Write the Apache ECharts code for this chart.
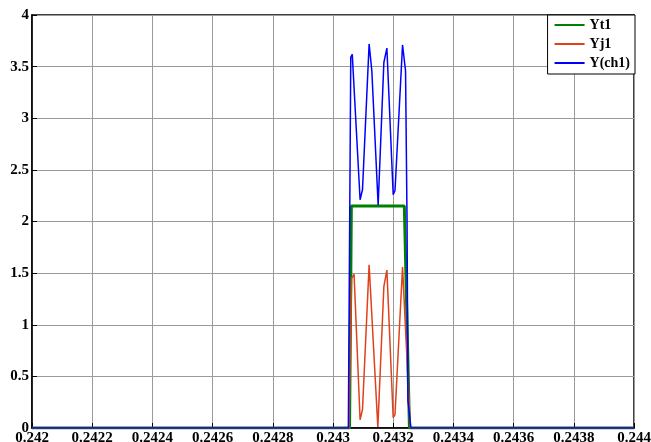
<!DOCTYPE html>
<html>
<head>
<meta charset="utf-8">
<script src="https://cdn.jsdelivr.net/npm/echarts@6/dist/echarts.min.js"></script>
<style>
  html, body { margin: 0; padding: 0; background: #fff; }
  #chart { width: 651px; height: 442px; }
</style>
</head>
<body>
<div id="chart"></div>
<script>
// Time axis ticks and value axis ticks
const xTickLabels = ['0.242', '0.2422', '0.2424', '0.2426', '0.2428', '0.243', '0.2432', '0.2434', '0.2436', '0.2438', '0.244'];
const yTickLabels = ['0', '0.5', '1', '1.5', '2', '2.5', '3', '3.5', '4'];

// Yt1: rectangular pulse
const yt1 = [
  [0.242, 0], [0.243055, 0], [0.243061, 2.15], [0.243237, 2.15], [0.243254, 0], [0.244, 0]
];

// Yj1: oscillating component
const yj1 = [
  [0.242, 0], [0.243053, 0], [0.243062, 1.45], [0.243070, 1.49],
  [0.243090, 0.08], [0.243098, 0.18], [0.243120, 1.58],
  [0.243149, 0.01], [0.243169, 1.37], [0.243179, 1.53],
  [0.243200, 0.10], [0.243206, 0.13], [0.243231, 1.56],
  [0.243237, 1.20], [0.243257, 0], [0.244, 0]
];

// Y(ch1): combined signal
const ych1 = [
  [0.242, 0], [0.243051, 0], [0.243059, 3.59], [0.243064, 3.62], [0.243070, 3.63],
  [0.243090, 2.21], [0.243098, 2.31], [0.243120, 3.72], [0.243129, 3.46],
  [0.243150, 2.16], [0.243169, 3.54], [0.243179, 3.68],
  [0.243200, 2.26], [0.243206, 2.30], [0.243231, 3.71], [0.243241, 3.46],
  [0.243246, 2.0], [0.243249, 0.27], [0.243259, 0], [0.244, 0]
];

const labelFont = { fontFamily: '"Liberation Serif", "Times New Roman", serif', fontWeight: 'bold', fontSize: 14, color: '#000' };

const chart = echarts.init(document.getElementById('chart'), null, { renderer: 'canvas' });
chart.setOption({
  animation: false,
  backgroundColor: '#fff',
  grid: {
    left: 32, right: 17, top: 15, bottom: 14,
    outerBoundsMode: 'none', containLabel: false,
    show: true, borderColor: '#000', borderWidth: 1.5, backgroundColor: 'transparent'
  },
  legend: {
    orient: 'vertical',
    right: 16, top: 15,
    backgroundColor: '#fff',
    borderColor: '#000', borderWidth: 1,
    padding: [3, 5, 4, 6],
    itemWidth: 30, itemHeight: 14, itemGap: 5,
    itemStyle: { opacity: 0 },
    textStyle: Object.assign({}, labelFont, { fontSize: 14 }),
    data: ['Yt1', 'Yj1', 'Y(ch1)']
  },
  xAxis: {
    type: 'value',
    min: 0.242, max: 0.244, interval: 0.0002,
    axisLine: { show: true, onZero: false, lineStyle: { color: '#000', width: 1.5 } },
    axisTick: { show: true, inside: true, length: 5, lineStyle: { color: '#000' } },
    splitLine: { show: true, lineStyle: { color: '#9a9a9a', width: 1 } },
    axisLabel: Object.assign({}, labelFont, {
      fontSize: 15, margin: 3, showMinLabel: true, showMaxLabel: true,
      formatter: v => xTickLabels[Math.round((v - 0.242) / 0.0002)] ?? ''
    })
  },
  yAxis: {
    type: 'value',
    min: 0, max: 4, interval: 0.5,
    axisLine: { show: true, lineStyle: { color: '#000', width: 1.5 } },
    axisTick: { show: true, inside: true, length: 5, lineStyle: { color: '#000' } },
    splitLine: { show: true, lineStyle: { color: '#9a9a9a', width: 1 } },
    axisLabel: Object.assign({}, labelFont, {
      fontSize: 15, margin: 3,
      formatter: v => yTickLabels[Math.round(v / 0.5)] ?? ''
    })
  },
  series: [
    { name: 'Yt1', type: 'line', data: yt1, showSymbol: false, symbol: 'none',
      lineStyle: { color: '#008000', width: 3 }, itemStyle: { color: '#008000' } },
    { name: 'Yj1', type: 'line', data: yj1, showSymbol: false, symbol: 'none',
      lineStyle: { color: '#e0401a', width: 1.5 }, itemStyle: { color: '#e0401a' } },
    { name: 'Y(ch1)', type: 'line', data: ych1, showSymbol: false, symbol: 'none',
      lineStyle: { color: '#0000ff', width: 1.5 }, itemStyle: { color: '#0000ff' } }
  ]
});
</script>
</body>
</html>
